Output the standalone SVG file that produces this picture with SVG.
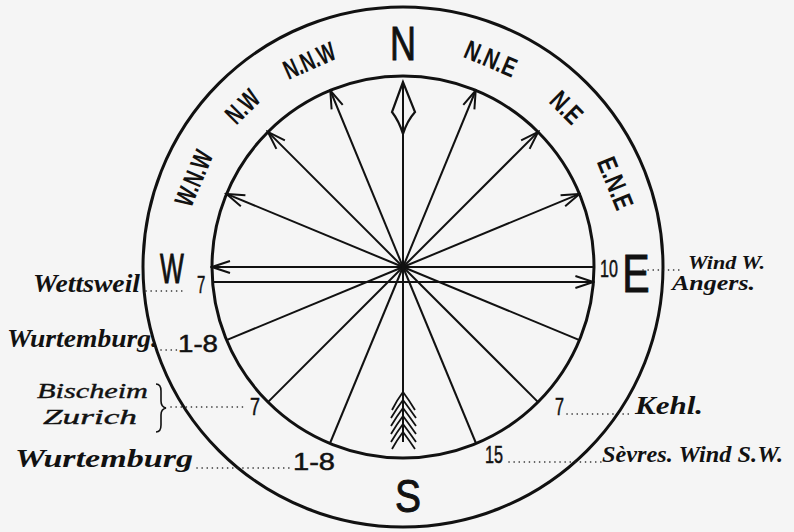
<svg xmlns="http://www.w3.org/2000/svg" width="794" height="532" viewBox="0 0 794 532">
<defs>
<style>
.ring{fill:none;stroke:#111;stroke-width:3}
.sp{stroke:#111;stroke-width:2;fill:none}
.dot{stroke:#222;stroke-width:1.6;stroke-dasharray:0.1 5;stroke-linecap:round;fill:none}
.big{font-family:"Liberation Sans",Arial,sans-serif;font-weight:normal;fill:#111;stroke:#111;stroke-width:1;text-anchor:middle}
.lab{font-family:"Liberation Sans",Arial,sans-serif;font-weight:bold;font-size:27px;fill:#111;text-anchor:middle}
.num{font-family:"Liberation Sans",Arial,sans-serif;font-size:23px;fill:#111;stroke:#111;stroke-width:0.5}
.scr{font-family:"Liberation Serif","Times New Roman",serif;font-style:italic;font-weight:bold;fill:#111}
.scrn{font-family:"Liberation Serif","Times New Roman",serif;font-style:italic;font-weight:normal;fill:#111;stroke:#111;stroke-width:0.4}
</style>
<marker id="ah" viewBox="-20 -8 22 16" refX="0" refY="0" markerWidth="22" markerHeight="16" markerUnits="userSpaceOnUse" orient="auto">
<path d="M-18,-6 L0,0 L-18,6" fill="none" stroke="#111" stroke-width="2"/>
</marker>
</defs>
<rect width="794" height="532" fill="#f5f5f5"/>

<g id="circles">
<circle class="ring" cx="403" cy="267" r="260"/>
<circle class="ring" cx="403" cy="267" r="191"/>
</g>

<g id="connectors">
<line class="sp" x1="403" y1="267" x2="330.3" y2="90.5" marker-end="url(#ah)"/>
<line class="sp" x1="403" y1="267" x2="475.7" y2="90.5" marker-end="url(#ah)"/>
<line class="sp" x1="403" y1="267" x2="267.9" y2="131.9" marker-end="url(#ah)"/>
<line class="sp" x1="403" y1="267" x2="538.1" y2="131.9" marker-end="url(#ah)"/>
<line class="sp" x1="403" y1="267" x2="226.5" y2="193.9" marker-end="url(#ah)"/>
<line class="sp" x1="403" y1="267" x2="579.5" y2="193.9" marker-end="url(#ah)"/>
<line class="sp" x1="594" y1="267" x2="212" y2="267" marker-end="url(#ah)"/>
<line class="sp" x1="212.6" y1="282" x2="593.4" y2="282" marker-end="url(#ah)"/>
<line class="sp" x1="403" y1="267" x2="226.5" y2="340.1"/>
<line class="sp" x1="403" y1="267" x2="267.9" y2="402.1"/>
<line class="sp" x1="403" y1="267" x2="329.9" y2="443.5"/>
<line class="sp" x1="403" y1="267" x2="476.1" y2="443.5"/>
<line class="sp" x1="403" y1="267" x2="538.1" y2="402.1"/>
<line class="sp" x1="403" y1="267" x2="579.5" y2="340.1"/>
<line class="sp" x1="403" y1="267" x2="403" y2="84"/>
<line class="sp" x1="403" y1="267" x2="403" y2="442"/>
</g>

<g id="north-arrow">
<path d="M403,82 L392,112 Q399,121 403,134 Q407,121 415,112 Z" fill="none" stroke="#111" stroke-width="2.2"/>
</g>

<g id="south-tail" fill="none" stroke="#111" stroke-width="1.8">
<path d="M392,410 Q397,400 403,392 Q409,400 415,410"/>
<path d="M391,418 Q397,408 403,400 Q409,408 416,418"/>
<path d="M391,426 Q397,416 403,408 Q409,416 416,426"/>
<path d="M391,434 Q397,424 403,416 Q409,424 416,434"/>
<path d="M391,442 Q397,432 403,424 Q409,432 416,442"/>
<path d="M392,449 Q397,440 403,432 Q409,440 415,449"/>
</g>

<g id="cardinals">
<text class="big" x="403" y="60" font-size="49" textLength="26" lengthAdjust="spacingAndGlyphs">N</text>
<text class="big" x="408" y="512" font-size="47" textLength="26" lengthAdjust="spacingAndGlyphs">S</text>
<text class="big" transform="translate(172,283) scale(0.6,1)" font-size="42">W</text>
<text class="big" transform="translate(636,292) scale(0.76,1)" font-size="54">E</text>
</g>

<g id="ring-labels">
<text class="lab" transform="translate(309,60) rotate(-24)" y="10" textLength="54" lengthAdjust="spacingAndGlyphs">N.N.W</text>
<text class="lab" transform="translate(242,106) rotate(-45)" y="10" textLength="36" lengthAdjust="spacingAndGlyphs">N.W</text>
<text class="lab" transform="translate(193,178) rotate(-67)" y="10" textLength="58" lengthAdjust="spacingAndGlyphs">W.N.W</text>
<text class="lab" transform="translate(491,58) rotate(23)" y="10" textLength="54" lengthAdjust="spacingAndGlyphs">N.N.E</text>
<text class="lab" transform="translate(567,107) rotate(45)" y="10" textLength="34" lengthAdjust="spacingAndGlyphs">N.E</text>
<text class="lab" transform="translate(616,183) rotate(68)" y="10" textLength="54" lengthAdjust="spacingAndGlyphs">E.N.E</text>
</g>

<g id="numbers">
<text class="num" transform="translate(197,293) scale(0.65,1)" font-size="26">7</text>
<text class="num" x="178" y="352" textLength="40" lengthAdjust="spacingAndGlyphs">1-8</text>
<text class="num" x="250" y="415" textLength="10" lengthAdjust="spacingAndGlyphs">7</text>
<text class="num" x="293" y="470" textLength="42" lengthAdjust="spacingAndGlyphs">1-8</text>
<text class="num" x="555" y="415" textLength="9" lengthAdjust="spacingAndGlyphs">7</text>
<text class="num" x="485" y="463" textLength="18" lengthAdjust="spacingAndGlyphs">15</text>
<text class="num" transform="translate(600,277) scale(0.7,1)" font-size="19">10</text>
</g>

<g id="leaders">
<line class="dot" x1="146" y1="291" x2="184" y2="291"/>
<line class="dot" x1="161" y1="350" x2="177" y2="350"/>
<line class="dot" x1="171" y1="407" x2="246" y2="407"/>
<line class="dot" x1="197" y1="468" x2="291" y2="468"/>
<line class="dot" x1="643" y1="270" x2="681" y2="270"/>
<line class="dot" x1="567" y1="414" x2="631" y2="414"/>
<line class="dot" x1="509" y1="462" x2="601" y2="462"/>
<path d="M156,384 Q161,384 161,391 L161,401 Q161,407 166,408 Q161,409 161,415 L161,425 Q161,432 156,432" fill="none" stroke="#111" stroke-width="1.6"/>
</g>

<g id="places">
<text class="scr" x="33" y="292" font-size="26" textLength="107" lengthAdjust="spacingAndGlyphs">Wettsweil</text>
<text class="scr" x="7" y="347" font-size="26" textLength="151" lengthAdjust="spacingAndGlyphs">Wurtemburg.</text>
<text class="scrn" x="37" y="398" font-size="22" textLength="111" lengthAdjust="spacingAndGlyphs">Bischeim</text>
<text class="scrn" x="43" y="424" font-size="22" textLength="94" lengthAdjust="spacingAndGlyphs">Zurich</text>
<text class="scr" x="15" y="467" font-size="26" textLength="178" lengthAdjust="spacingAndGlyphs">Wurtemburg</text>
<text class="scr" x="688" y="269" font-size="18" textLength="77" lengthAdjust="spacingAndGlyphs">Wind W.</text>
<text class="scr" x="672" y="290" font-size="20" textLength="83" lengthAdjust="spacingAndGlyphs">Angers.</text>
<text class="scr" x="635" y="414" font-size="25" textLength="68" lengthAdjust="spacingAndGlyphs">Kehl.</text>
<text class="scr" x="602" y="462" font-size="24" textLength="181" lengthAdjust="spacingAndGlyphs">Sèvres. Wind S.W.</text>
</g>
</svg>
